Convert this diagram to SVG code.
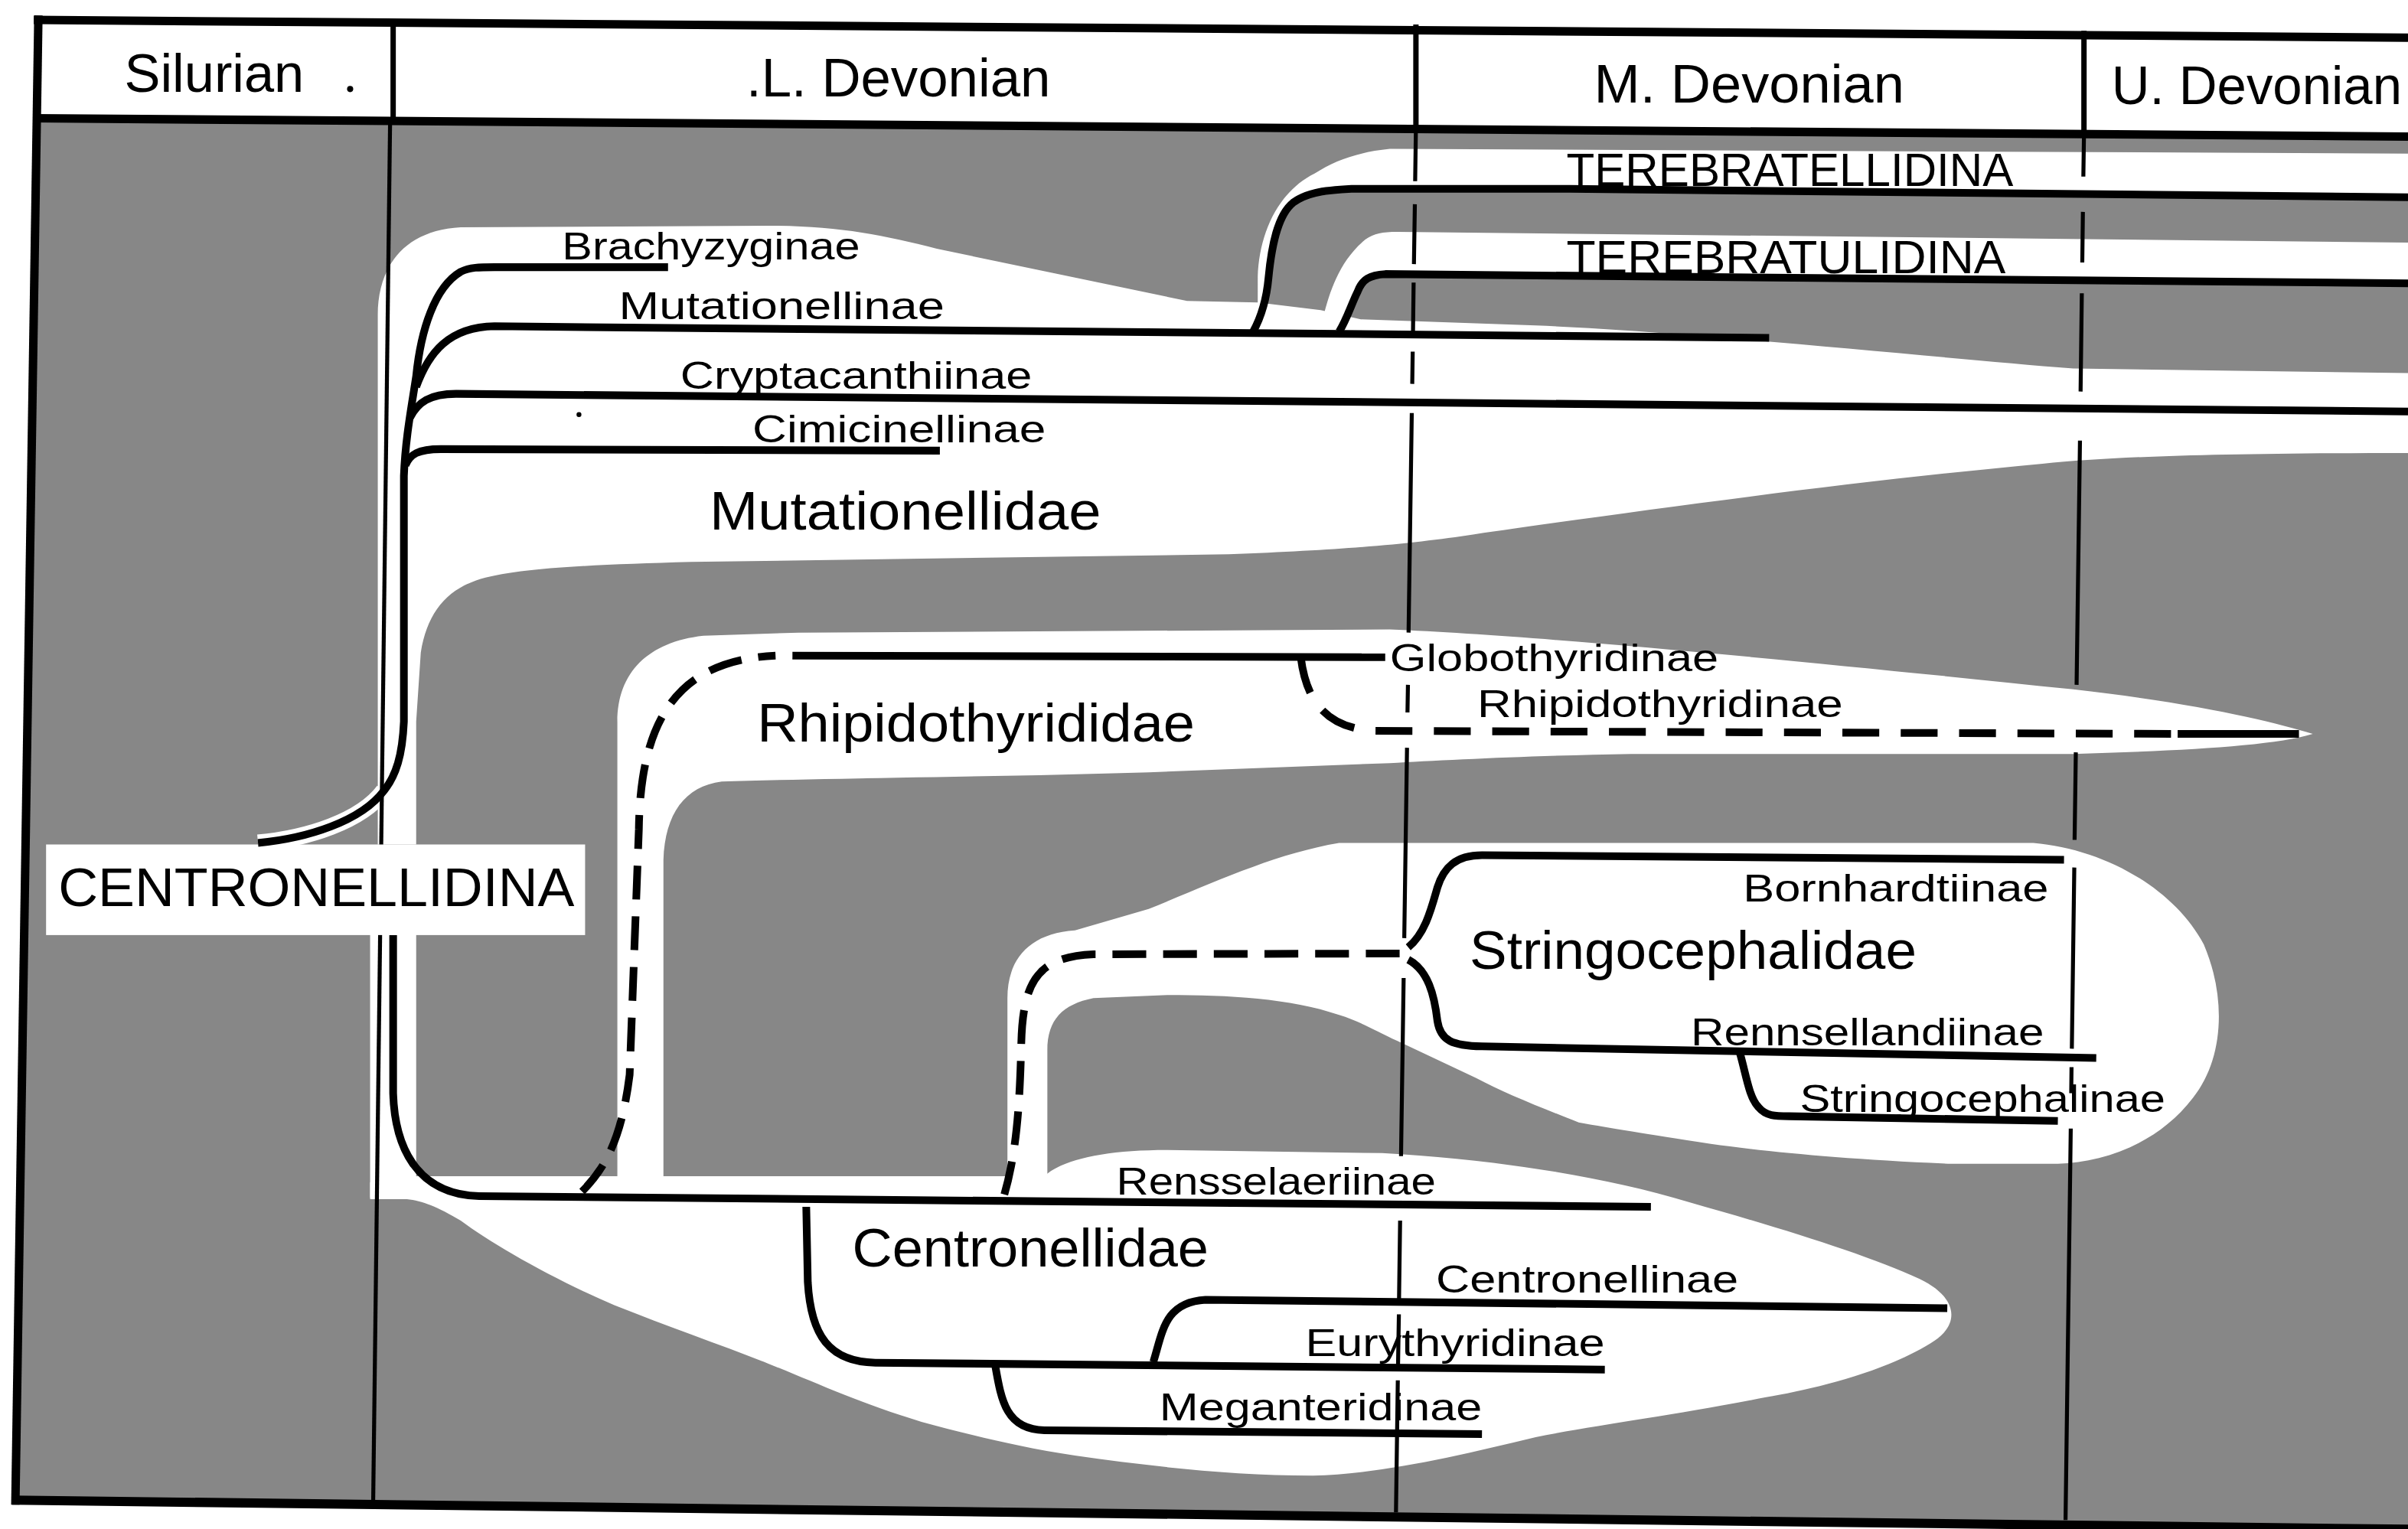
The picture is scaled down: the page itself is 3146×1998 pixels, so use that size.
<svg xmlns="http://www.w3.org/2000/svg" width="3146" height="1998" viewBox="0 0 3146 1998">
<defs>
<style>
.g{fill:#878787}
.w{fill:#fff}
.ln{fill:none;stroke:#000;stroke-width:5;stroke-linejoin:round}
.ds{fill:none;stroke:#000;stroke-width:5;stroke-dasharray:22 11}
.dv{fill:none;stroke:#000;stroke-width:2.6}
.hdv{fill:none;stroke:#000;stroke-width:3.5}
.fr{fill:none;stroke:#000;stroke-width:5.5}
.halo{fill:none;stroke:#fff;stroke-width:11}
text{font-family:"Liberation Sans",Arial,Helvetica,sans-serif;fill:#000}
.hd{font-size:35px}
.sf{font-size:25px}
.fam{font-size:35px}
.sub{font-size:30px}
</style>
</defs>
<rect width="3146" height="1998" fill="#fff"/>
<g transform="scale(2.00638)">
<g id="shading">
 <path class="g" d="M24,79 L1568,91 L1568,998 L10,978 Z"/>
 <path class="w" id="zone-mutationellidae" d="M246,550 L246,205 C246,175 262,150 300,148 L500,147 C545,147 575,153 610,162 L773,196 L819,197 L860,202 L886,208 L1000,212 C1100,216 1250,232 1350,240 L1568,243 L1568,295 C1450,295 1380,297 1330,302 C1200,314 1050,335 960,348 C920,354 880,358 800,361 L450,366 C380,368 335,370 310,378 C290,385 278,400 274,425 L271,470 L271,550 Z"/>
 <path class="w" id="zone-terebratellidina" d="M819,197 L819,180 C820,152 832,125 856,113 C870,104 885,99 905,97 L1568,100 L1568,128 L1022,123 L880,123 C860,124 850,126 842,132 C832,140 828,160 826,181 C825,192 822,205 816,216 Z"/>
 <path class="w" id="zone-terebratulidina" d="M862,205 C866,190 872,170 889,156 C895,152 900,151 910,151 L1568,158 L1568,184.5 L902,178.5 C892,179 887,182 884,190 C880,198 877,208 872,216 Z"/>
 <path class="w" id="zone-rhipidothyrididae" d="M402,766 L402,470 C402,438 422,418 458,414 L520,412 L905,410 C1000,414 1150,428 1350,449 C1430,458 1480,470 1506,478 C1480,486 1420,489 1350,491 L1062,491 C1000,492 940,495 905,497 L748,503 C650,506 530,507 470,509 C446,512 433,530 432,560 L432,766 Z"/>
 <path class="w" id="zone-stringocephalidae" d="M656,780 L656,650 C656,625 670,608 700,606 L748,592 C790,575 830,556 872,549 L1324,549 C1370,553 1415,578 1435,615 C1450,650 1448,690 1428,715 C1405,745 1370,757 1340,758 L1271,758 C1200,755 1150,750 1114,745 C1070,738 1050,735 1028,731 C1000,720 980,712 961,702 L910,678 C895,671 885,665 872,661 C840,650 800,648 760,648 L712,650 C692,654 682,664 682,684 L682,780 Z"/>
 <rect class="w" x="241" y="600" width="30" height="180"/>
 <path class="w" id="zone-centronellidae" d="M241,770 L271,766 L680,766 C692,755 720,749 760,749 L900,751 C970,755 1040,765 1100,783 C1160,800 1215,817 1250,833 C1275,845 1276,862 1260,873 C1230,893 1180,905 1150,910 C1090,922 1040,928 1000,936 C950,948 900,960 855,961 C800,961 750,955 700,948 C660,942 630,934 600,926 C560,914 530,900 500,888 C470,876 435,864 400,850 C360,833 320,810 300,795 C285,786 275,782 265,781 L241,781 Z"/>
 <path class="halo" d="M168,549 C200,546 235,535 250,515"/>
 <circle cx="377" cy="270" r="1.6" fill="#000"/>
</g>
<g id="period-lines">
 <path class="hdv" d="M256,14 L256,78 M922,16 L922,83 M1357,20 L1357,88"/>
 <path class="dv" d="M254,80 L243,978"/>
 <path class="dv" d="M922,82 L921.5,118 M921.3,133 L920.7,172 M920.5,184 L920.1,216 M919.9,229 L919.6,250 M919.3,269 L917.2,412 M916.8,446 L916.5,464 M916.2,487 L914.4,611 M914,637 L912.3,753 M911.7,795 L911,846 M910.9,856 L910.3,892 M910.2,899 L909,985"/>
 <path class="dv" d="M1357,88 L1356.6,115 M1356.3,138 L1355.9,171 M1355.6,191 L1354.8,255 M1354.4,287 L1352.2,446 M1351.7,490 L1350.9,547 M1350.7,565 L1349.1,683 M1348.9,695 L1348.7,712 M1348.4,735 L1345,990"/>
</g>
<g id="node-centronellidina">
 <rect class="w" x="30" y="550" width="351" height="59"/>
 <text class="hd" x="38" y="590" textLength="336" lengthAdjust="spacingAndGlyphs">CENTRONELLIDINA</text>
</g>
<g id="connectors">
 <path class="ln" d="M168,549 C200,546 235,535 250,515 C258,505 262,492 263,470 L263,310 C264,285 268,265 271,245 C274,215 283,187 300,177 C306,174 312,174 322,174 L435,174"/>
 <path class="ln" d="M271,252 C279,230 292,213 322,212.5 L1152,220"/>
 <path class="ln" d="M267,272 C272,262 280,256.5 297,256.5 L1568,268"/>
 <path class="ln" d="M264,303 C267,296 272,292.5 287,292.5 L612,293.5"/>
 <path class="ln" d="M816,216 C822,205 825,192 826,181 C828,160 832,140 842,132 C850,126 860,124 880,123 L1022,123 L1568,128.5"/>
 <path class="ln" d="M872,216 C877,208 880,198 884,190 C887,182 892,179 902,178.5 L1568,184.5"/>
 <path class="ln" d="M256,609 L256,712 C257,745 270,778 312,779 L1075,786"/>
 <path class="ds" d="M379,776 C395,760 405,740 410,700 L416,540 C417,470 440,430 505,427"/>
 <path class="ln" d="M516,427 L902,428"/>
 <path class="ds" style="stroke-dasharray:24 14" d="M847,428 C850,452 860,474 895,476 L1420,478"/>
 <path class="ln" d="M1418,478 L1497,478"/>
 <path class="ds" d="M654,778 C662,750 664,720 665,680 C666,640 675,623 712,621.5 L917,621"/>
 <path class="ln" d="M917,617 C928,608 932,592 936,578 C940,565 948,557 965,557 L1344,560"/>
 <path class="ln" d="M917,625 C930,632 934,648 936,665 C938,678 946,681 965,681.5 L1365,689"/>
 <path class="ln" d="M1133,686 C1137,700 1139,715 1145,721 C1150,727 1156,727 1165,727 L1340,730"/>
 <path class="ln" d="M525,786 L526,835 C528,870 540,887 570,887.5 L1045,892"/>
 <path class="ln" d="M751,887 C757,868 758,848 785,846.5 L1268,852"/>
 <path class="ln" d="M648,889 C652,912 655,931 680,931.5 L965,934"/>
</g>
<g id="frame">
 <path class="fr" d="M22,13 L1568,24.5"/>
 <path class="fr" d="M22,77 L1568,89"/>
 <path class="fr" d="M25,10 L10,980"/>
 <path class="fr" style="stroke-width:6" d="M8,977 L1568,996"/>
</g>
<g id="header">
 <g id="node-silurian"><text class="hd" x="81" y="60" textLength="117" lengthAdjust="spacingAndGlyphs">Silurian</text><circle cx="228" cy="58" r="2" fill="#000"/></g>
 <g id="node-l-devonian"><text class="hd" x="486" y="63" textLength="198" lengthAdjust="spacingAndGlyphs">.L. Devonian</text></g>
 <g id="node-m-devonian"><text class="hd" x="1038" y="67" textLength="202" lengthAdjust="spacingAndGlyphs">M. Devonian</text></g>
 <g id="node-u-devonian"><text class="hd" x="1375" y="68" textLength="189" lengthAdjust="spacingAndGlyphs">U. Devonian</text></g>
</g>
<g id="node-brachyzyginae"><text class="sf" x="366" y="169" textLength="194" lengthAdjust="spacingAndGlyphs">Brachyzyginae</text></g>
<g id="node-mutationellinae"><text class="sf" x="403" y="208" textLength="212" lengthAdjust="spacingAndGlyphs">Mutationellinae</text></g>
<g id="node-cryptacanthiinae"><text class="sf" x="443" y="253" textLength="229" lengthAdjust="spacingAndGlyphs">Cryptacanthiinae</text></g>
<g id="node-cimicinellinae"><text class="sf" x="490" y="288" textLength="191" lengthAdjust="spacingAndGlyphs">Cimicinellinae</text></g>
<g id="node-mutationellidae"><text class="fam" x="462" y="345" textLength="255" lengthAdjust="spacingAndGlyphs">Mutationellidae</text></g>
<g id="node-terebratellidina"><text class="sub" x="1020" y="121" textLength="291" lengthAdjust="spacingAndGlyphs">TEREBRATELLIDINA</text></g>
<g id="node-terebratulidina"><text class="sub" x="1020" y="178" textLength="286" lengthAdjust="spacingAndGlyphs">TEREBRATULIDINA</text></g>
<g id="node-globothyridinae"><text class="sf" x="905" y="437" textLength="214" lengthAdjust="spacingAndGlyphs">Globothyridinae</text></g>
<g id="node-rhipidothyridinae"><text class="sf" x="962" y="467" textLength="238" lengthAdjust="spacingAndGlyphs">Rhipidothyridinae</text></g>
<g id="node-rhipidothyrididae"><text class="fam" x="493" y="483" textLength="285" lengthAdjust="spacingAndGlyphs">Rhipidothyrididae</text></g>
<g id="node-bornhardtiinae"><text class="sf" x="1135" y="587" textLength="199" lengthAdjust="spacingAndGlyphs">Bornhardtiinae</text></g>
<g id="node-stringocephalidae"><text class="fam" x="957" y="631" textLength="291" lengthAdjust="spacingAndGlyphs">Stringocephalidae</text></g>
<g id="node-rennsellandiinae"><text class="sf" x="1101" y="681" textLength="230" lengthAdjust="spacingAndGlyphs">Rennsellandiinae</text></g>
<g id="node-stringocephalinae"><text class="sf" x="1172" y="724" textLength="238" lengthAdjust="spacingAndGlyphs">Stringocephalinae</text></g>
<g id="node-rensselaeriinae"><text class="sf" x="727" y="778" textLength="208" lengthAdjust="spacingAndGlyphs">Rensselaeriinae</text></g>
<g id="node-centronellidae"><text class="fam" x="555" y="825" textLength="232" lengthAdjust="spacingAndGlyphs">Centronellidae</text></g>
<g id="node-centronellinae"><text class="sf" x="935" y="842" textLength="197" lengthAdjust="spacingAndGlyphs">Centronellinae</text></g>
<g id="node-eurythyridinae"><text class="sf" x="850" y="883" textLength="195" lengthAdjust="spacingAndGlyphs">Eurythyridinae</text></g>
<g id="node-meganteridinae"><text class="sf" x="755" y="925" textLength="210" lengthAdjust="spacingAndGlyphs">Meganteridinae</text></g>
</g>
</svg>
